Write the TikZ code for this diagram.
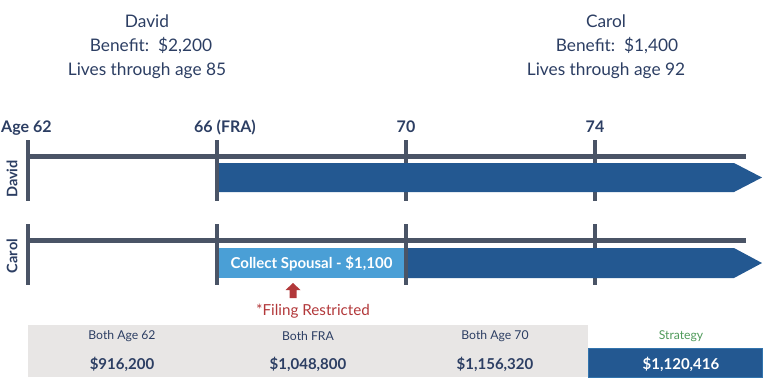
\documentclass[tikz,border=0pt]{standalone}
\usepackage{fontspec}
\setmainfont{Lato}
\definecolor{navy}{HTML}{2C3E63}
\definecolor{tl}{HTML}{4A5466}
\definecolor{dblue}{HTML}{235891}
\definecolor{lblue}{HTML}{4A9FD6}
\definecolor{redc}{HTML}{B2383A}
\definecolor{greenc}{HTML}{4F9A5A}
\definecolor{grayc}{HTML}{E8E6E5}
\begin{document}
\begin{tikzpicture}[x=1pt,y=-1pt,
  hdr/.style={text=navy,font=\fontsize{17.3}{19}\selectfont,anchor=center,inner sep=0},
  agelbl/.style={text=navy,font=\fontsize{16}{18}\selectfont\bfseries,anchor=base,inner sep=0},
  side/.style={text=navy,font=\fontsize{14.5}{16}\selectfont\bfseries,rotate=90,inner sep=0},
  hline/.style={draw=tl,line width=5pt},
  tick/.style={draw=tl,line width=4pt},
  colhd/.style={text=navy,font=\fontsize{12.2}{14}\selectfont,inner sep=0},
  colval/.style={text=navy,font=\fontsize{15}{17}\selectfont\bfseries,inner sep=0}]
\useasboundingbox (0,0) rectangle (768,384);
% headers
\node[hdr] (dn) at (147,21) {David};
\node[hdr] (db) at (151,46) {Benefit:\ \ \$2,200};
\node[hdr] (dl) at (147,71) {Lives through age 85};
\node[hdr] (cn) at (606,21) {Carol};
\node[hdr] (cb) at (617,46) {Benefit:\ \ \$1,400};
\node[hdr] (cl) at (606,71) {Lives through age 92};
% age labels
\node[agelbl,anchor=base west] (a62) at (1,132) {Age 62};
\node[agelbl] (a66) at (225,132) {66 (FRA)};
\node[agelbl] (a70) at (406,132) {70};
\node[agelbl] (a74) at (595,132) {74};
% side labels
\node[side] (sd) at (12,179) {David};
\node[side] (sc) at (12,256) {Carol};
% coordinates
\coordinate (d0) at (28,156); \coordinate (d1) at (746,156);
\coordinate (c0) at (28,240); \coordinate (c1) at (746,240);
% timelines
\draw[hline] (d0) -- (d1);
\foreach \x in {28,217,406,595}{
  \draw[tick] (\x,140) -- (\x,201);
  \draw[tick] (\x,224) -- (\x,285);
}
\draw[hline] (c0) -- (c1);
% David arrow
\fill[dblue] (219,163) -- (734,163) -- (762,177.5) -- (734,192) -- (219,192) -- cycle;
% Carol bars
\fill[lblue] (219,248) rectangle (404,278);
\node[text=white,font=\fontsize{15}{17}\selectfont\bfseries,inner sep=0] (sp) at (311.5,264) {Collect Spousal - \$1,100};
\fill[dblue] (408,248) -- (734,248) -- (762,263) -- (734,278) -- (408,278) -- cycle;
% red arrow and note
\fill[redc] (293,283) -- (300.5,290) -- (296.5,290) -- (296.5,298) -- (289.5,298) -- (289.5,290) -- (285.5,290) -- cycle;
\node[text=redc,font=\fontsize{15.2}{17}\selectfont,inner sep=0] (fr) at (313,311) {*Filing Restricted};
% table
\fill[grayc] (28,325) rectangle (588,377);
\fill[dblue] (588,348) rectangle (762,377);
\draw[lblue!40!dblue,line width=0.6pt] (588,348) rectangle (762,377);
\node[colhd] (h1) at (122,336) {Both Age 62};
\node[colhd] (h2) at (308,336) {Both FRA};
\node[colhd] (h3) at (495,336) {Both Age 70};
\node[colhd,text=greenc] (h4) at (681,336) {Strategy};
\node[colval] (v1) at (122,364) {\$916,200};
\node[colval] (v2) at (308,364) {\$1,048,800};
\node[colval] (v3) at (495,364) {\$1,156,320};
\node[colval,text=white] (v4) at (681,364) {\$1,120,416};
\end{tikzpicture}
\end{document}
